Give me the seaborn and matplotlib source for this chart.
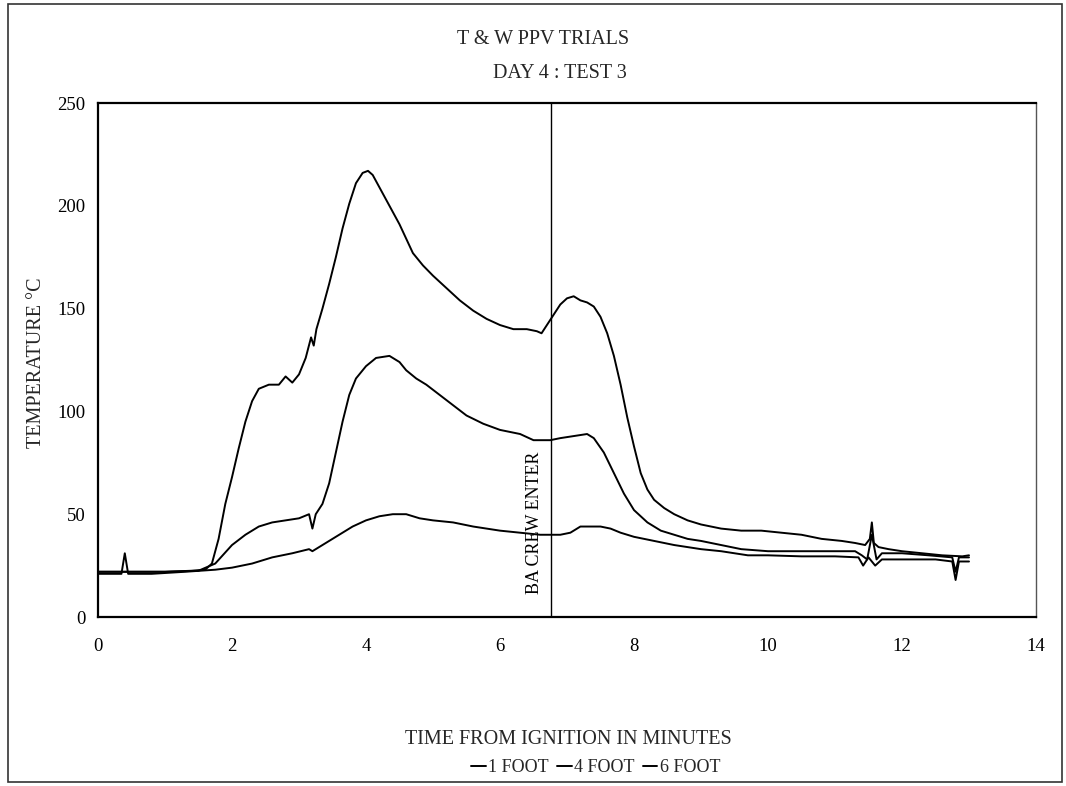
import matplotlib
matplotlib.use("Agg")
import matplotlib.pyplot as plt
import seaborn as sns
import pandas as pd
from matplotlib.patches import Rectangle

# Thermocouple readings (minutes from ignition, temperature in deg C)
time_1ft = [0, 0.3, 0.6, 1.0, 1.4, 1.6, 1.7, 1.8, 1.9, 2.0, 2.1, 2.2, 2.3, 2.4, 2.55,
            2.7, 2.8, 2.9, 3.0, 3.1, 3.18, 3.22, 3.26, 3.35, 3.45, 3.55, 3.65, 3.75,
            3.85, 3.95, 4.03, 4.1, 4.2, 4.3, 4.4, 4.5, 4.6, 4.7, 4.85, 5.0, 5.2, 5.4,
            5.6, 5.8, 6.0, 6.2, 6.4, 6.55, 6.62, 6.7, 6.8, 6.9, 7.0, 7.1, 7.2, 7.3,
            7.4, 7.5, 7.6, 7.7, 7.8, 7.9, 8.0, 8.1, 8.2, 8.3, 8.45, 8.6, 8.8, 9.0,
            9.3, 9.6, 9.9, 10.2, 10.5, 10.8, 11.1, 11.3, 11.45, 11.52, 11.55, 11.58,
            11.65, 11.8, 12.0, 12.3, 12.6, 12.9, 13.0]
temp_1ft = [22, 22, 22, 22, 22.5, 23, 26, 38, 55, 68, 82, 95, 105, 111, 113,
            113, 117, 114, 118, 126, 136, 132, 140, 150, 162, 175, 189, 201,
            211, 216, 217, 215, 209, 203, 197, 191, 184, 177, 171, 166, 160, 154,
            149, 145, 142, 140, 140, 139, 138, 142, 147, 152, 155, 156, 154, 153,
            151, 146, 138, 127, 113, 97, 83, 70, 62, 57, 53, 50, 47, 45,
            43, 42, 42, 41, 40, 38, 37, 36, 35, 38, 46, 36,
            34, 33, 32, 31, 30, 29.5, 30]

time_4ft = [0, 0.3, 0.6, 1.0, 1.5, 1.75, 2.0, 2.2, 2.4, 2.6, 2.8, 3.0, 3.15, 3.2,
            3.25, 3.35, 3.45, 3.55, 3.65, 3.75, 3.85, 4.0, 4.15, 4.35, 4.5, 4.6,
            4.75, 4.9, 5.1, 5.3, 5.5, 5.75, 6.0, 6.3, 6.5, 6.75, 6.9, 7.1, 7.3,
            7.4, 7.55, 7.7, 7.85, 8.0, 8.2, 8.4, 8.6, 8.8, 9.0, 9.3, 9.6, 10.0,
            10.5, 11.0, 11.3, 11.4, 11.48, 11.55, 11.62, 11.7, 12.0, 12.4, 12.75,
            12.8, 12.85, 13.0]
temp_4ft = [22, 22, 22, 22, 22.5, 26, 35, 40, 44, 46, 47, 48, 50, 43,
            50, 55, 65, 80, 95, 108, 116, 122, 126, 127, 124, 120,
            116, 113, 108, 103, 98, 94, 91, 89, 86, 86, 87, 88, 89,
            87, 80, 70, 60, 52, 46, 42, 40, 38, 37, 35, 33, 32,
            32, 32, 32, 30, 28, 40, 28, 31, 31, 30, 29,
            22, 29, 29]

time_6ft = [0, 0.35, 0.4, 0.45, 0.8, 1.3, 1.75, 2.0, 2.3, 2.6, 2.9, 3.15, 3.2,
            3.25, 3.4, 3.6, 3.8, 4.0, 4.2, 4.4, 4.6, 4.8, 5.0, 5.3, 5.6, 6.0,
            6.3, 6.6, 6.9, 7.05, 7.2, 7.5, 7.65, 7.8, 8.0, 8.3, 8.6, 9.0, 9.3,
            9.5, 9.7, 10.0, 10.5, 11.0, 11.35, 11.42, 11.5, 11.6, 11.7, 12.0,
            12.5, 12.75, 12.8, 12.85, 13.0]
temp_6ft = [21, 21, 31, 21, 21, 22, 23, 24, 26, 29, 31, 33, 32,
            33, 36, 40, 44, 47, 49, 50, 50, 48, 47, 46, 44, 42,
            41, 40, 40, 41, 44, 44, 43, 41, 39, 37, 35, 33, 32,
            31, 30, 30, 29.5, 29.5, 29, 25, 29, 25, 28, 28,
            28, 27, 18, 27, 27]

series_names = ["1 FOOT", "4 FOOT", "6 FOOT"]
crew_entry_time = 6.76
x_ticks = [0, 2, 4, 6, 8, 10, 12, 14]
y_ticks = [0, 50, 100, 150, 200, 250]

frames = []
for name, t, v in zip(series_names, [time_1ft, time_4ft, time_6ft],
                      [temp_1ft, temp_4ft, temp_6ft]):
    frames.append(pd.DataFrame({"time": t, "temp": v, "probe": name}))
data = pd.concat(frames, ignore_index=True)

sns.set_theme(style="white")
plt.rcParams["font.family"] = ["Liberation Serif", "DejaVu Serif"]

W, H = 1066, 786
fig = plt.figure(figsize=(W / 100, H / 100), dpi=100)
fig.patch.set_facecolor("white")
ax = fig.add_axes([98 / W, 1 - 617 / H, (1036 - 98) / W, (617 - 103) / H])

sns.lineplot(data=data, x="time", y="temp", hue="probe", hue_order=series_names,
             palette=["black"] * 3, linewidth=1.4, estimator=None, sort=False,
             ax=ax, legend=False)

ax.axvline(crew_entry_time, color="black", linewidth=1.0)
ax.text(crew_entry_time - 0.24, 11, "BA CREW ENTER", rotation=90,
        ha="center", va="bottom", fontsize=13, color="black")

ax.set_xlim(0, 14)
ax.set_ylim(0, 250)
ax.set_xticks(x_ticks)
ax.set_yticks(y_ticks)
ax.tick_params(direction="inout", length=10, width=1.2, labelsize=13.5,
               colors="black")
ax.tick_params(axis="x", pad=10)
ax.tick_params(axis="y", pad=4)
for side in ["left", "bottom", "top"]:
    ax.spines[side].set_linewidth(1.6)
    ax.spines[side].set_color("black")
ax.spines["right"].set_linewidth(1.0)
ax.spines["right"].set_color("#555555")
ax.grid(False)

ax.set_xlabel("TIME FROM IGNITION IN MINUTES", fontsize=14.5)
ax.xaxis.set_label_coords((568 - 98) / 938, -(740 - 617) / 514)
ax.xaxis.label.set_va("center")
ax.set_ylabel("TEMPERATURE °C", fontsize=14.5)
ax.yaxis.set_label_coords((37 - 98) / 938, (617 - 363) / 514)
ax.yaxis.label.set_va("center")

fig.text(543 / W, 1 - 40 / H, "T & W PPV TRIALS", ha="center", va="center",
         fontsize=14.5)
fig.text(560 / W, 1 - 73 / H, "DAY 4 : TEST 3", ha="center", va="center",
         fontsize=14.5)

handles = [plt.Line2D([], [], color="black", linewidth=1.4) for _ in series_names]
fig.legend(handles, series_names, loc="center", bbox_to_anchor=(596 / W, 1 - 768 / H),
           ncol=3, frameon=False, fontsize=13, handlelength=0.8,
           handletextpad=0.15, columnspacing=0.45, borderpad=0, borderaxespad=0)

fig.patches.append(Rectangle((8 / W, 4 / H), 1054 / W, 778 / H,
                             transform=fig.transFigure, fill=False,
                             edgecolor="#333333", linewidth=1.2))

fig.savefig("out.png", dpi=100)
